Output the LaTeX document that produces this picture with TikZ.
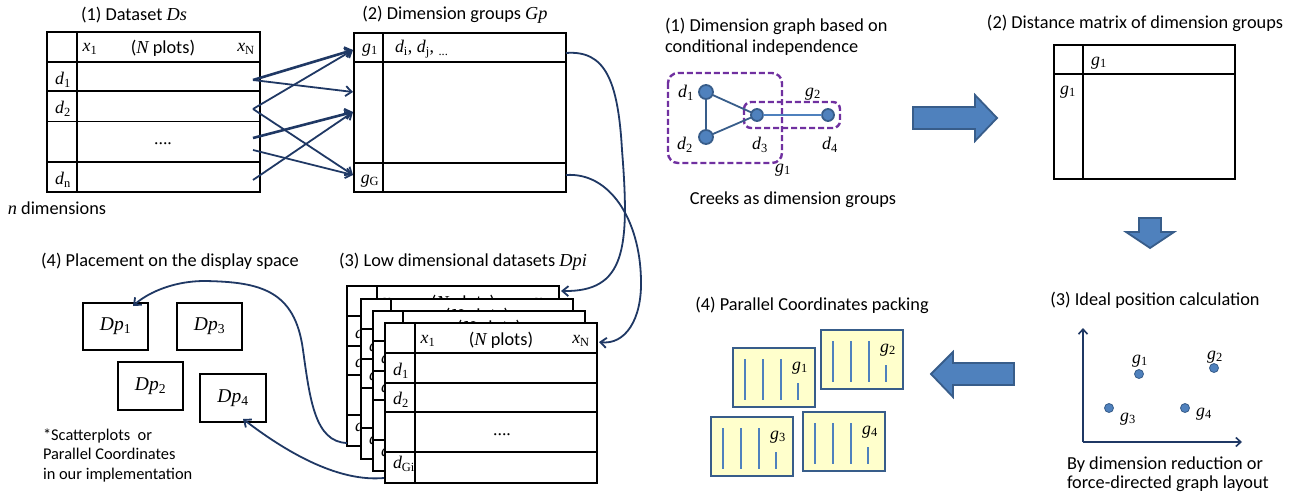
\documentclass[tikz,border=0pt]{standalone}
\usepackage{fontspec}
\setmainfont{Carlito}
\newfontfamily\tms{Liberation Serif}
\usetikzlibrary{arrows.meta}
\definecolor{navy}{RGB}{31,56,100}
\definecolor{pblue}{RGB}{79,129,189}
\definecolor{pborder}{RGB}{56,93,138}
\definecolor{purp}{RGB}{112,48,160}
\definecolor{pyellow}{RGB}{255,255,204}
\newcommand\mv[1]{{\tms\itshape #1}}
\newcommand\ms[2]{{\tms\textit{#1}\textsubscript{#2}}}
\newcommand\lowtab[3]{%
\begin{scope}[shift={(#1,#2)}]
\fill[white] (0,0) rectangle (212,160);
\draw[inner] (30,0)--(30,160) (0,30)--(212,30) (0,60)--(212,60) (0,89)--(212,89) (0,129)--(212,129);
\draw[outer] (0,0) rectangle (212,160);
\node[lbl] (#3x1) at (43,18) {\ms{x}{1}};
\node[sans] (#3np) at (116,17) {(\mv{N} plots)};
\node[lbl] (#3xn) at (196,18) {\ms{x}{N}};
\node[lbl] (#3d1) at (16,48) {\ms{d}{1}};
\node[lbl] (#3d2) at (16,77) {\ms{d}{2}};
\node[lbl] (#3dots) at (117,112) {....};
\node[lbl] (#3dg) at (19,141) {\ms{d}{Gi}};
\end{scope}}
\newcommand\pcbox[4]{%
\begin{scope}[shift={(#1,#2)}]
\draw[pcb] (0,0) rectangle (82,59);
\draw[pcl] (12,11)--(12,52) (30,11)--(30,52) (48,11)--(48,52) (65,35)--(65,52);
\node[lbl] (#4) at (67,20) {\ms{g}{#3}};
\end{scope}}
\begin{document}
\begin{tikzpicture}[x=1pt,y=-1pt,
  every node/.style={inner sep=0pt,outer sep=0pt},
  sans/.style={font=\fontsize{18.3}{22}\selectfont},
  foot/.style={font=\fontsize{16.4}{19.5}\selectfont},
  lbl/.style={font=\fontsize{17.8}{20}\selectfont\tms},
  dpl/.style={font=\fontsize{19.5}{22}\selectfont\tms},
  outer/.style={line width=2pt,draw=black},
  inner/.style={line width=1.4pt,draw=black},
  thinl/.style={line width=0.8pt,draw=black},
  conn/.style={draw=navy,line width=1.8pt,-{Straight Barb[length=6pt,width=10pt]}},
  dpbox/.style={draw=black,line width=2pt,dpl},
  gnode/.style={circle,fill=pblue,draw=pborder,line width=1.8pt},
  gedge/.style={draw=pborder,line width=1.8pt},
  gedge2/.style={draw=pblue,line width=1.5pt},
  purpdash/.style={draw=purp,line width=2.4pt,dash pattern=on 6pt off 3pt},
  blockarr/.style={fill=pblue,draw=pborder,line width=1.8pt,line join=miter},
  axis/.style={draw=navy,line width=1.6pt,-{Straight Barb[length=5pt,width=9pt]}},
  dot/.style={circle,fill=pblue,draw=pborder,line width=0.8pt,minimum size=9pt},
  pcb/.style={draw=pborder,fill=pyellow,line width=2pt},
  pcl/.style={draw=pblue,line width=1.6pt}
]
\useasboundingbox (0,0) rectangle (1314,497);
\fill[white] (0,0) rectangle (1314,497);

% ---- (1) Dataset
\draw[inner] (77,32)--(77,192) (47,62)--(260,62) (47,91)--(260,91) (47,162)--(260,162);
\draw[thinl] (47,121)--(260,121);
\draw[outer] (47,32) rectangle (260,192);
\node[sans] (t1) at (134,15) {(1) Dataset \mv{Ds}};
\node[lbl] (ax1) at (90,49) {\ms{x}{1}};
\node[sans] (anp) at (163,48) {(\mv{N} plots)};
\node[lbl] (axn) at (246,49) {\ms{x}{N}};
\node[lbl] (ad1) at (63,80) {\ms{d}{1}};
\node[lbl] (ad2) at (63,109) {\ms{d}{2}};
\node[lbl] (adots) at (163,144) {....};
\node[lbl] (adn) at (63,180) {\ms{d}{n}};
\node[sans] (ndim) at (57,208) {\mv{n} dimensions};

% ---- (2) Dimension groups
\draw[inner] (383,33)--(383,192) (354,62)--(566,62) (354,163)--(566,163);
\draw[outer] (354,33) rectangle (566,192);
\node[sans] (t2) at (455,15) {(2) Dimension groups \mv{Gp}};
\node[lbl] (bg1) at (370,50) {\ms{g}{1}};
\node[lbl,anchor=west] (bdij) at (395,49) {\textit{d}\textsubscript{i}, \textit{d}\textsubscript{j}, \textsubscript{...}};
\node[lbl] (bgG) at (370,181) {\ms{g}{G}};

% ---- crossing arrows
\coordinate (s1) at (253,80);
\coordinate (s2) at (253,109);
\coordinate (s3) at (253,138);
\coordinate (s4) at (253,150);
\coordinate (s5) at (253,180);
\coordinate (e1) at (353,50);
\coordinate (e2) at (353,92);
\coordinate (e3) at (353,112);
\coordinate (e4) at (353,175);
\draw[conn,line width=2.6pt] (s1)--(e1);
\draw[conn] (s1)--(e2);
\draw[conn] (s2)--(e1);
\draw[conn] (s2)--(e4);
\draw[conn,line width=2.6pt] (s3)--(e3);
\draw[conn] (s4)--(e4);
\draw[conn] (s5)--(e3);

% ---- (3) Low dimensional datasets
\node[sans] (t3) at (463,262) {(3) Low dimensional datasets \mv{Dpi}};
\lowtab{347}{286}{p}
\lowtab{361}{299}{q}
\lowtab{373}{311}{r}
\lowtab{385}{323}{s}

\coordinate (ga) at (566,53);
\coordinate (gb) at (566,175);
\coordinate (ta) at (561,291);
\coordinate (tb) at (599,342);
\draw[conn] (ga) .. controls (605,50) and (618,80) .. (622,150) .. controls (630,250) and (625,292) .. (ta);
\draw[conn] (gb) .. controls (610,172) and (640,220) .. (641,280) .. controls (642,320) and (625,345) .. (tb);

% ---- (4) Placement
\node[sans] (t4) at (170,261) {(4) Placement on the display space};
\node[dpbox,minimum width=65pt,minimum height=47pt] (dp1) at (115.5,326.5) {\textit{Dp}\textsubscript{1}};
\node[dpbox,minimum width=65pt,minimum height=47pt] (dp3) at (209.5,326.5) {\textit{Dp}\textsubscript{3}};
\node[dpbox,minimum width=65pt,minimum height=48pt] (dp2) at (150.5,386) {\textit{Dp}\textsubscript{2}};
\node[dpbox,minimum width=66pt,minimum height=48pt] (dp4) at (233,398) {\textit{Dp}\textsubscript{4}};
\node[foot,anchor=west,align=left] (fn) at (43,455) {*Scatterplots~~or\\Parallel Coordinates\\in our implementation};

\coordinate (pc) at (347,443);
\coordinate (pd) at (384,478);
\coordinate (dp1tip) at (133,306);
\coordinate (dp4tip) at (243,419);
\draw[conn] (pc) .. controls (315,442) and (310,400) .. (303,350) .. controls (295,290) and (260,282) .. (205,281) .. controls (170,281) and (145,295) .. (dp1tip);
\draw[conn] (pd) .. controls (340,482) and (290,455) .. (dp4tip);

% ---- right (1) Dimension graph
\node[sans,anchor=west] (t5a) at (665,26) {(1) Dimension graph based on};
\node[sans,anchor=west] (t5b) at (665,48) {conditional independence};
\draw[purpdash,rounded corners=10pt] (668,73) rectangle (782,163);
\draw[purpdash,rounded corners=7pt] (744,102) rectangle (840,128);
\node[gnode,minimum size=14pt] (n1) at (706,92) {};
\node[gnode,minimum size=14pt] (n2) at (706,137) {};
\node[gnode,minimum size=12pt] (n3) at (757,115) {};
\node[gnode,minimum size=12pt] (n4) at (828,115) {};
\draw[gedge] (n1)--(n2);
\draw[gedge] (n1)--(n3);
\draw[gedge] (n2)--(n3);
\draw[gedge2] (n3)--(n4);
\node[lbl] (ld1) at (686,93) {\ms{d}{1}};
\node[lbl] (ld2) at (685,145) {\ms{d}{2}};
\node[lbl] (ld3) at (760,145) {\ms{d}{3}};
\node[lbl] (ld4) at (830,145) {\ms{d}{4}};
\node[lbl] (lg2) at (813,94) {\ms{g}{2}};
\node[lbl] (lg1) at (783,170) {\ms{g}{1}};
\node[sans] (t5c) at (793,200) {Creeks as dimension groups};

\draw[blockarr] (913,107)--(975,107)--(975,95)--(997,118)--(975,141)--(975,129)--(913,129)--cycle;

% ---- right (2) Distance matrix
\node[sans] (t6) at (1135,23) {(2) Distance matrix of dimension groups};
\draw[inner] (1083,45)--(1083,179) (1054,74)--(1235,74);
\draw[outer] (1054,45) rectangle (1235,179);
\node[lbl] (mg1a) at (1099,63) {\ms{g}{1}};
\node[lbl] (mg1b) at (1068,92) {\ms{g}{1}};

\draw[blockarr] (1139,218)--(1161,218)--(1161,232)--(1174,232)--(1150,248)--(1126,232)--(1139,232)--cycle;

% ---- right (3) Ideal position
\node[sans] (t7) at (1155,300) {(3) Ideal position calculation};
\coordinate (org) at (1083,442);
\coordinate (ytop) at (1083,328);
\coordinate (xend) at (1242,442);
\draw[axis] (org)--(ytop);
\draw[axis] (org)--(xend);
\node[dot] (p1) at (1139,374) {};
\node[dot] (p2) at (1214,368) {};
\node[dot] (p3) at (1109,408) {};
\node[dot] (p4) at (1185,408) {};
\node[lbl] (q1) at (1140,361) {\ms{g}{1}};
\node[lbl] (q2) at (1215,357) {\ms{g}{2}};
\node[lbl] (q3) at (1128,419) {\ms{g}{3}};
\node[lbl] (q4) at (1204,414) {\ms{g}{4}};
\node[sans,anchor=west] (t7a) at (1067,465) {By dimension reduction or};
\node[sans,anchor=west] (t7b) at (1067,484) {force-directed graph layout};

% ---- right (4) PC packing
\node[sans] (t8) at (812,305) {(4) Parallel Coordinates packing};
\pcbox{733}{348}{1}{pg1}
\pcbox{821}{330}{2}{pg2}
\pcbox{711}{417}{3}{pg3}
\pcbox{803}{412}{4}{pg4}
\draw[blockarr] (931,374)--(953,352)--(953,363)--(1014,363)--(1014,385)--(953,385)--(953,397)--cycle;
\end{tikzpicture}
\end{document}
